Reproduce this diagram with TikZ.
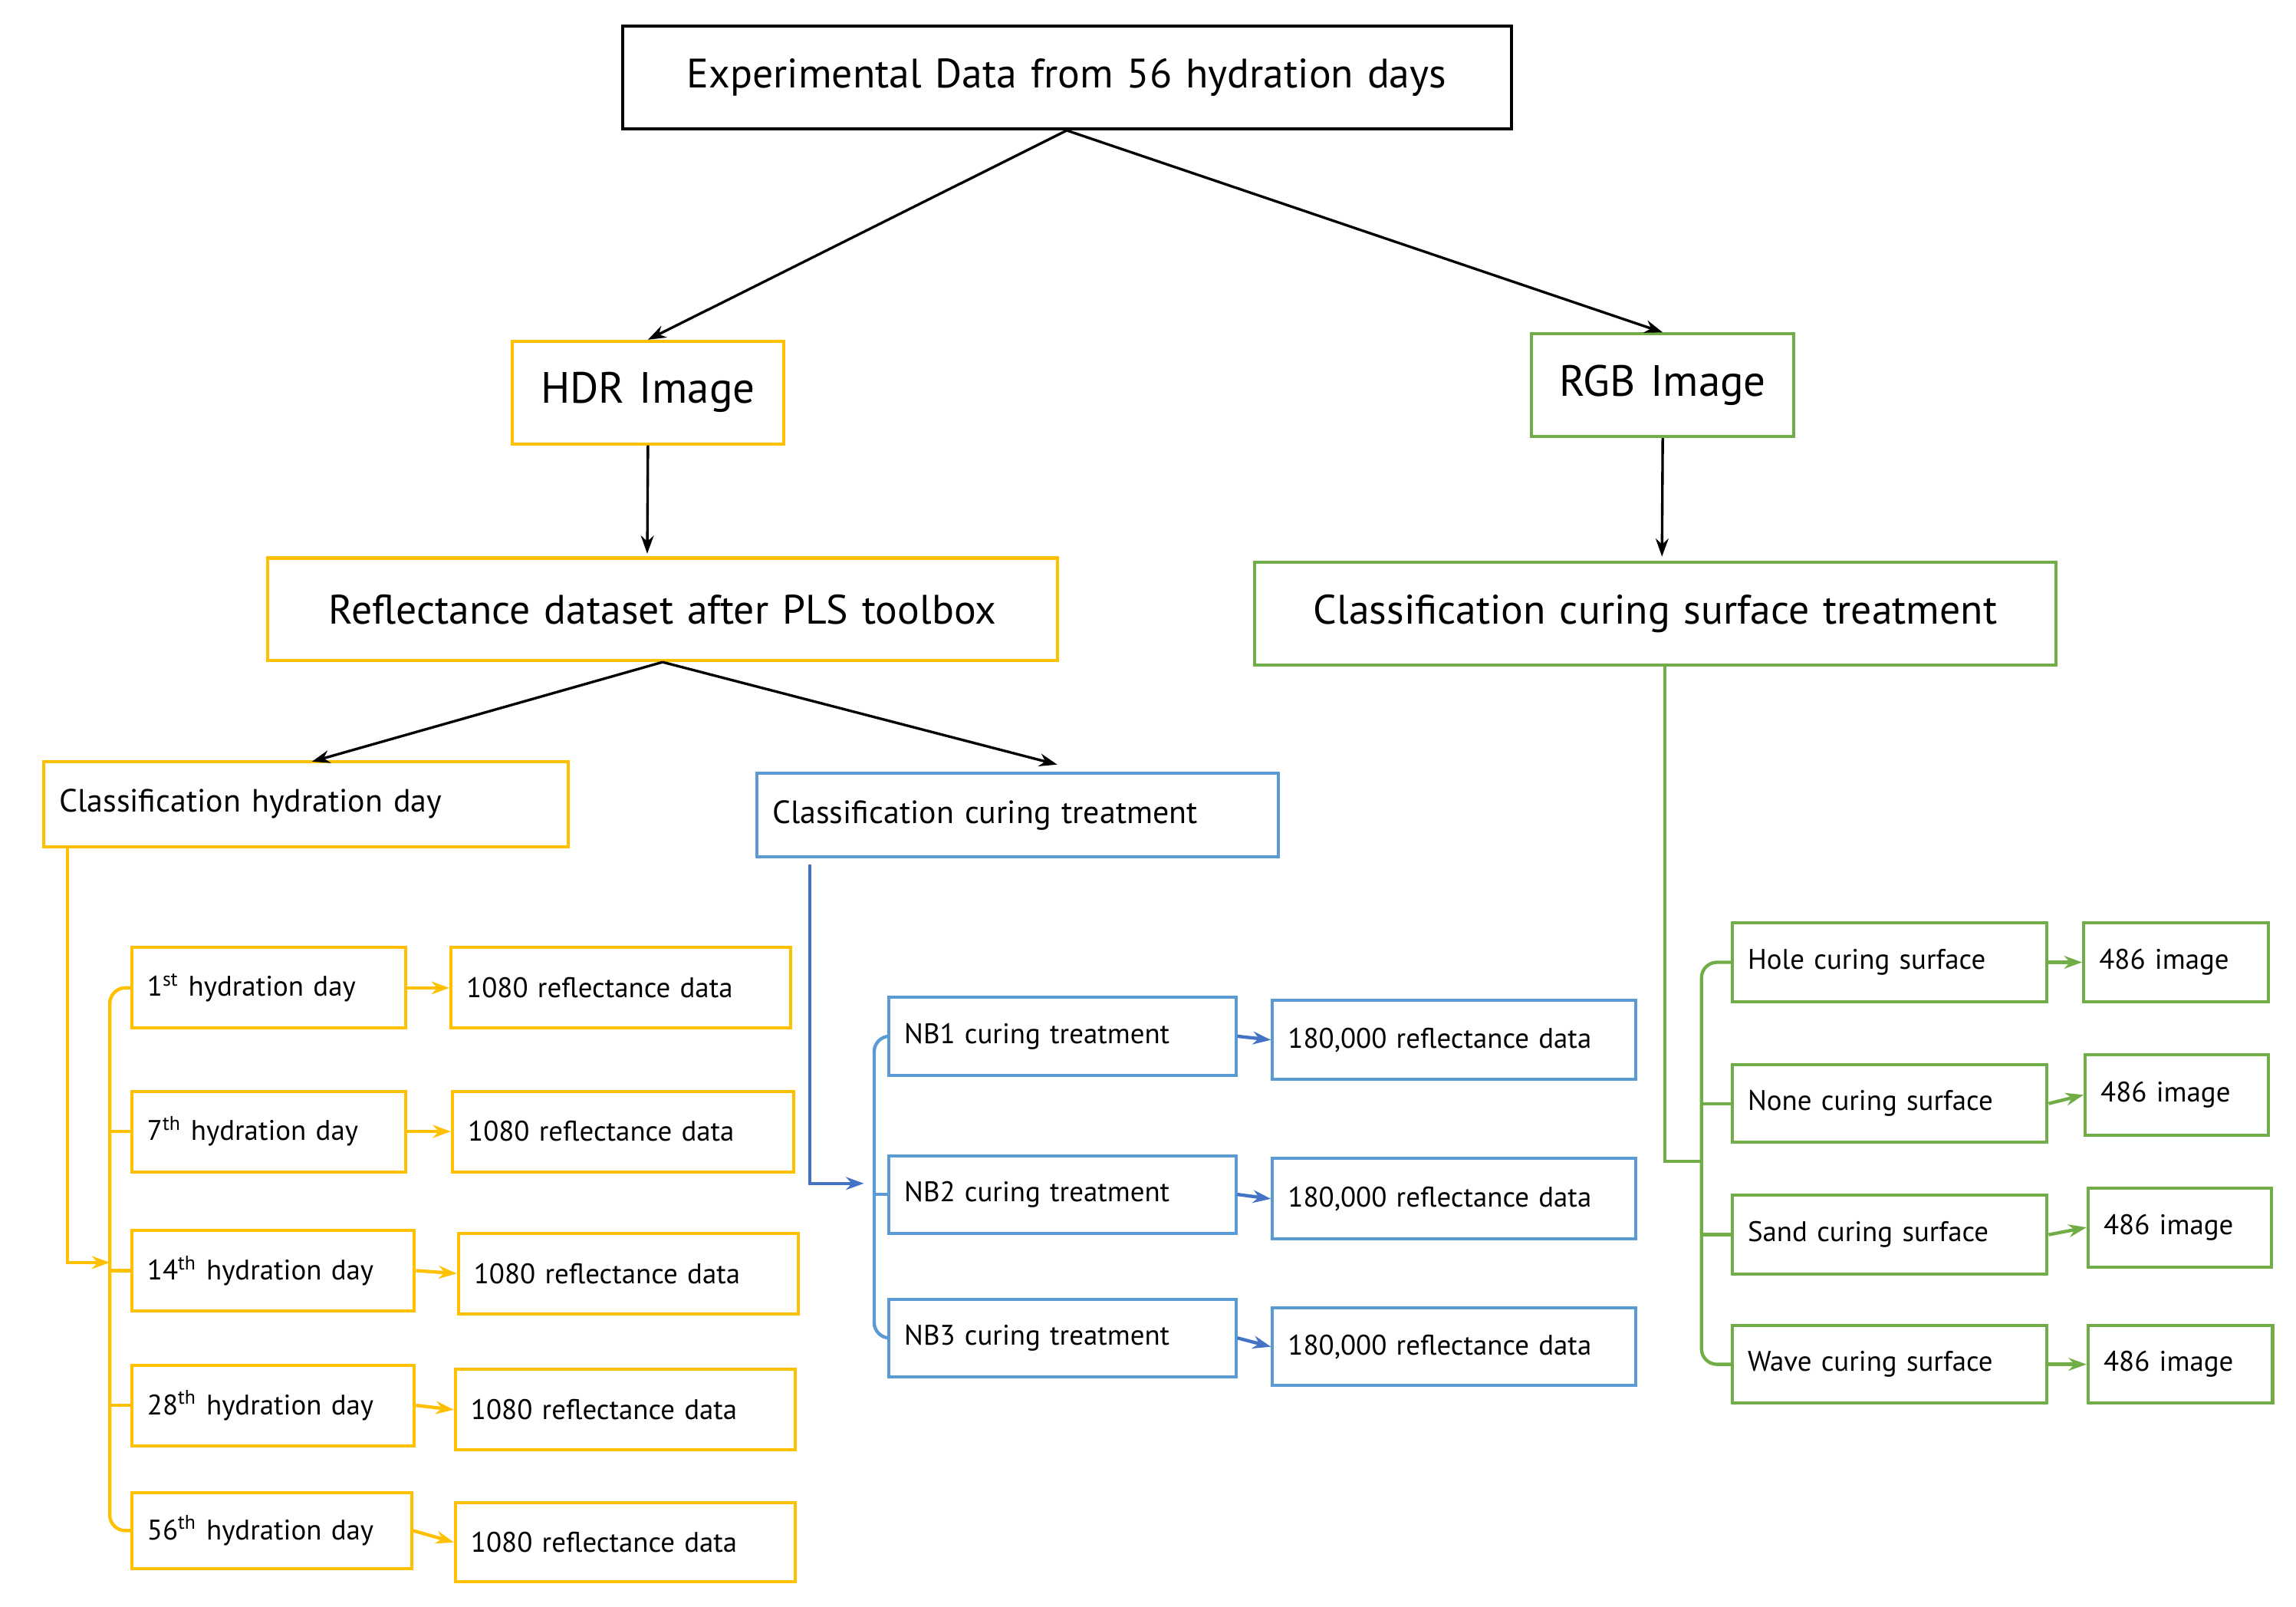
\documentclass[tikz,border=0pt]{standalone}
\usepackage{fontspec}
\setmainfont{PT Sans}
\usetikzlibrary{arrows.meta}
\definecolor{yel}{HTML}{FFC000}
\definecolor{blu}{HTML}{5B9BD5}
\definecolor{bla}{HTML}{4472C4}
\definecolor{grn}{HTML}{70AD47}
\begin{document}
\begin{tikzpicture}[x=0.02cm,y=-0.02cm,
  bx/.style n args={4}{draw, line width=1.2pt, inner xsep=6pt, inner ysep=0pt,
    at={({(#1+#3)/2},{(#2+#4)/2})},
    text width={(#3-#1)*0.02cm-12pt}, minimum height={(#4-#2)*0.02cm}},
  big/.style={font=\fontsize{16}{18}\selectfont, align=center},
  mid/.style={font=\fontsize{12.5}{14}\selectfont, align=left},
  sm/.style={font=\fontsize{11}{13}\selectfont, align=left},
  ar/.style={-{Stealth[length=7pt,width=5pt]}, line width=1pt},
  ya/.style={ar, draw=yel, line width=1.3pt},
  ba/.style={ar, draw=bla, line width=1.3pt},
  ga/.style={ar, draw=grn, line width=1.3pt}]
\useasboundingbox (0,0) rectangle (1568,1097);
\node[bx={425}{18}{1032}{88}, big] (top) {Experimental Data from 56 hydration days};
\node[bx={350}{233}{535}{303}, big, draw=yel, font=\fontsize{17}{19}\selectfont] (hdr) {HDR Image};
\node[bx={1046}{228}{1225}{298}, big, draw=grn, font=\fontsize{17}{19}\selectfont] (rgb) {RGB Image};
\node[bx={183}{381}{722}{451}, big, draw=yel] (refl) {Reflectance dataset after PLS toolbox};
\node[bx={857}{384}{1404}{454}, big, draw=grn] (ccs) {Classification curing surface treatment};
\node[bx={30}{520}{388}{578}, mid, draw=yel] (chd) {Classification hydration day};
\node[bx={517}{528}{873}{585}, mid, draw=blu] (cct) {Classification curing treatment};

\draw[ar] (top.south) -- (hdr.north);
\draw[ar] (top.south) -- (rgb.north);
\draw[ar] (hdr.south) -- (442,378);
\draw[ar] (rgb.south) -- (1135,380);
\draw[ar] (refl.south) -- (213,520);
\draw[ar] (refl.south) -- (722,522);

% hydration days
\node[bx={90}{647}{277}{702}, sm, draw=yel] (d1) {1\textsuperscript{st} hydration day};
\node[bx={90}{745}{277}{800}, sm, draw=yel] (d7) {7\textsuperscript{th} hydration day};
\node[bx={90}{840}{283}{895}, sm, draw=yel] (d14) {14\textsuperscript{th} hydration day};
\node[bx={90}{932}{283}{987}, sm, draw=yel] (d28) {28\textsuperscript{th} hydration day};
\node[bx={90}{1019}{281}{1071}, sm, draw=yel] (d56) {56\textsuperscript{th} hydration day};
\node[bx={308}{647}{540}{702}, sm, draw=yel] (r1) {1080 reflectance data};
\node[bx={309}{745}{542}{800}, sm, draw=yel] (r7) {1080 reflectance data};
\node[bx={313}{842}{545}{897}, sm, draw=yel] (r14) {1080 reflectance data};
\node[bx={311}{935}{543}{990}, sm, draw=yel] (r28) {1080 reflectance data};
\node[bx={311}{1026}{543}{1080}, sm, draw=yel] (r56) {1080 reflectance data};
\coordinate (yb) at (75,862);
\draw[ya] (46,578) -- (46,862) -- (yb);
\draw[yel, line width=1.3pt, rounded corners=6pt] (d1.west) -- (75,674.5) -- (75,1045) -- (d56.west);
\draw[yel, line width=1.3pt] (75,772.5) -- (d7.west) (75,867.5) -- (d14.west) (75,959.5) -- (d28.west);
\foreach \a/\b in {d1/r1,d7/r7,d14/r14,d28/r28,d56/r56} \draw[ya] (\a.east) -- (\b.west);

% curing treatment
\node[bx={607}{681}{844}{734}, sm, draw=blu] (n1) {NB1 curing treatment};
\node[bx={607}{789}{844}{842}, sm, draw=blu] (n2) {NB2 curing treatment};
\node[bx={607}{887}{844}{940}, sm, draw=blu] (n3) {NB3 curing treatment};
\node[bx={869}{683}{1117}{737}, sm, draw=blu] (m1) {180,000 reflectance data};
\node[bx={869}{791}{1117}{846}, sm, draw=blu] (m2) {180,000 reflectance data};
\node[bx={869}{893}{1117}{946}, sm, draw=blu] (m3) {180,000 reflectance data};
\draw[ba] (553,590) -- (553,808) -- (590,808);
\draw[blu, line width=1.3pt, rounded corners=6pt] (n1.west) -- (597,707.5) -- (597,913.5) -- (n3.west);
\draw[blu, line width=1.3pt] (597,815.5) -- (n2.west);
\foreach \a/\b in {n1/m1,n2/m2,n3/m3} \draw[ba] (\a.east) -- (\b.west);

% surfaces
\node[bx={1183}{630}{1398}{684}, sm, draw=grn] (s1) {Hole curing surface};
\node[bx={1183}{727}{1398}{780}, sm, draw=grn] (s2) {None curing surface};
\node[bx={1183}{816}{1398}{870}, sm, draw=grn] (s3) {Sand curing surface};
\node[bx={1183}{905}{1398}{958}, sm, draw=grn] (s4) {Wave curing surface};
\node[bx={1423}{630}{1549}{684}, sm, draw=grn] (i1) {486 image};
\node[bx={1424}{720}{1549}{775}, sm, draw=grn] (i2) {486 image};
\node[bx={1426}{811}{1551}{865}, sm, draw=grn] (i3) {486 image};
\node[bx={1426}{905}{1552}{958}, sm, draw=grn] (i4) {486 image};
\draw[grn, line width=1.3pt] (ccs.south -| 1137,0) -- (1137,793) -- (1162,793);
\draw[grn, line width=1.3pt, rounded corners=6pt] (s1.west) -- (1162,657) -- (1162,931.5) -- (s4.west);
\draw[grn, line width=1.3pt] (1162,753.5) -- (s2.west) (1162,843) -- (s3.west);
\foreach \a/\b in {s1/i1,s2/i2,s3/i3,s4/i4} \draw[ga] (\a.east) -- (\b.west);
\end{tikzpicture}
\end{document}
